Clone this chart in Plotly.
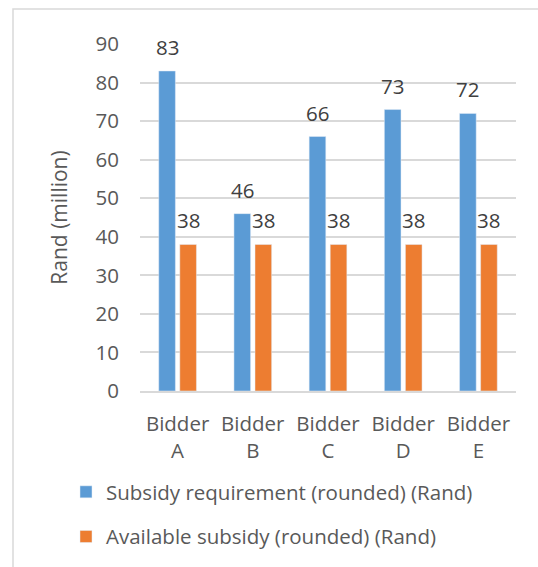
import plotly.graph_objects as go

# Bidders and subsidy figures (Rand, millions)
bidders = ["Bidder A", "Bidder B", "Bidder C", "Bidder D", "Bidder E"]
required = [83, 46, 66, 73, 72]
available = [38, 38, 38, 38, 38]
series_names = ["Subsidy requirement (rounded) (Rand)", "Available subsidy (rounded) (Rand)"]
y_ticks = [0, 10, 20, 30, 40, 50, 60, 70, 80, 90]

BLUE = "#5b9bd5"
ORANGE = "#ed7d31"
GRID = "#d9d9d9"
FONT = "Open Sans"
FS = 20.5
BARGAP = 0.44

W, H = 538, 567
ML, MR, MT, MB = 140, 22, 44, 176
plot_w = W - ML - MR
plot_h = H - MT - MB

fig = go.Figure()
fig.add_trace(go.Bar(x=bidders, y=required, name=series_names[0], marker_color=BLUE,
                     legendgroup="a"))
fig.add_trace(go.Bar(x=bidders, y=available, name=series_names[1], marker_color=ORANGE,
                     legendgroup="b"))

# value labels above each bar
slot = (1 - BARGAP) / 2
for i in range(len(bidders)):
    for vals, off in ((required, -slot / 2), (available, slot / 2)):
        fig.add_annotation(x=i + off, y=vals[i], text=str(vals[i]), showarrow=False,
                           xref="x", yref="y", yanchor="middle", yshift=24,
                           font=dict(family=FONT, size=FS, color="#404040"))

# outer chart frame
fig.add_shape(type="rect", xref="paper", yref="paper",
              x0=(13 - ML) / plot_w, x1=(545 - ML) / plot_w,
              y0=1 - (575 - MT) / plot_h, y1=1 + (MT - 9) / plot_h,
              line=dict(color=GRID, width=1.5), fillcolor="rgba(0,0,0,0)", layer="below")

fig.update_layout(
    width=W, height=H,
    margin=dict(l=ML, r=MR, t=MT, b=MB, autoexpand=False),
    paper_bgcolor="white", plot_bgcolor="white",
    barmode="group", bargap=BARGAP, bargroupgap=0.21,
    font=dict(family=FONT, size=FS, color="#595959"),
    xaxis=dict(
        tickmode="array", tickvals=bidders,
        ticktext=[b.replace(" ", "<br>") for b in bidders],
        showgrid=False, showline=True, linecolor=GRID, linewidth=1.5,
        ticks="", ticklabelstandoff=14, automargin=False,
        tickfont=dict(family=FONT, size=FS, color="#595959"),
    ),
    yaxis=dict(
        range=[0, 90], tickvals=y_ticks, showgrid=True, gridcolor=GRID, gridwidth=1.5,
        zeroline=False, showline=False, ticks="", ticklabelstandoff=20, automargin=False,
        tickfont=dict(family=FONT, size=FS, color="#595959"),
        title=dict(text="Rand (million)", standoff=22,
                   font=dict(family=FONT, size=21, color="#595959")),
    ),
    showlegend=True,
    legend=dict(orientation="v", x=(66 - ML) / plot_w, xanchor="left",
                y=1 - (472 - MT) / plot_h, yanchor="top",
                traceorder="grouped", tracegroupgap=15,
                font=dict(family=FONT, size=FS, color="#595959"),
                bgcolor="rgba(0,0,0,0)"),
)

fig.write_html("out.html")
